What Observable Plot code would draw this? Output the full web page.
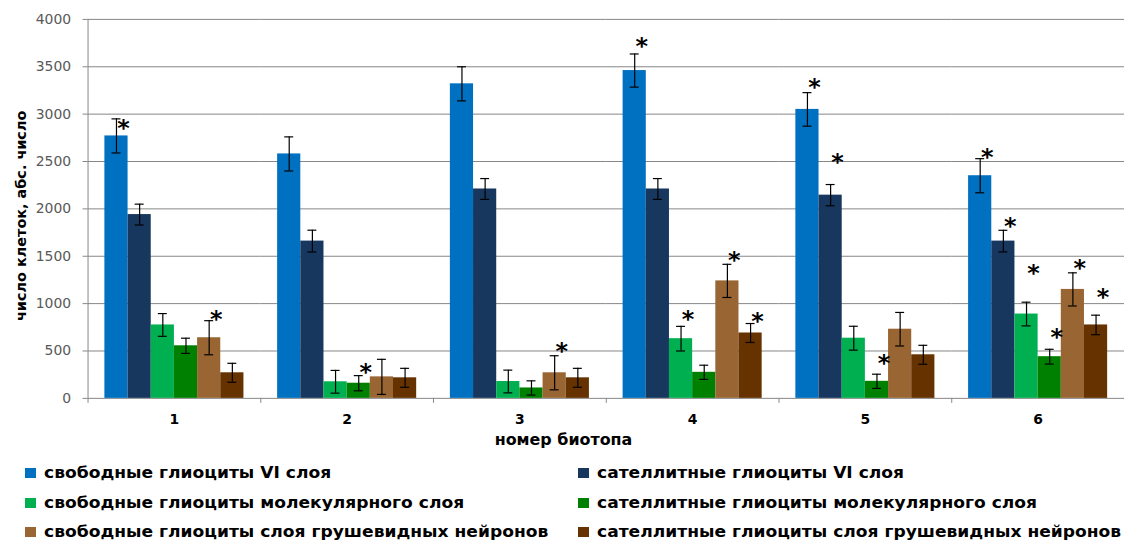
<!DOCTYPE html>
<html><head><meta charset="utf-8">
<script src="https://cdn.jsdelivr.net/npm/d3@7"></script>
<script src="https://cdn.jsdelivr.net/npm/@observablehq/plot@0.6"></script>
<style>
html,body{margin:0;padding:0;background:#fff;overflow:hidden;}
#wrap{position:relative;width:1124px;height:540px;overflow:hidden;}
#chart{position:absolute;left:0;top:0;}
.leg{position:absolute;display:flex;align-items:center;height:20px;font:bold 15px "DejaVu Sans";color:#000;white-space:nowrap;}
.leg .sw{width:11px;height:10px;margin-right:8px;flex:none;}
.leg .tx{display:inline-block;transform:scaleX(1.14);transform-origin:left center;}
</style></head><body>
<div id="wrap"><div id="chart"></div></div>
<script>
const groups = ["1", "2", "3", "4", "5", "6"];
const series = [
  "свободные глиоциты VI слоя",
  "сателлитные глиоциты VI слоя",
  "свободные глиоциты молекулярного слоя",
  "сателлитные глиоциты молекулярного слоя",
  "свободные глиоциты слоя грушевидных нейронов",
  "сателлитные глиоциты слоя грушевидных нейронов"
];
const colors = ["#0070C0", "#17375E", "#00B050", "#008000", "#996633", "#663300"];
// mean values per series, over groups 1..6
const means = [
  [2770, 2580, 3320, 3460, 3050, 2350],
  [1940, 1660, 2210, 2210, 2145, 1660],
  [775, 175, 178, 630, 635, 890],
  [555, 160, 110, 275, 180, 440],
  [640, 227, 270, 1240, 730, 1150],
  [270, 217, 217, 690, 460, 775]
];
// error (±) per series, over groups 1..6
const errors = [
  [180, 180, 180, 175, 177, 180],
  [110, 115, 110, 110, 112, 114],
  [120, 120, 120, 130, 126, 125],
  [80, 80, 75, 75, 75, 78],
  [180, 185, 180, 175, 177, 175],
  [100, 100, 100, 100, 100, 103]
];
// significance asterisks: [group, series index, value level of the asterisk]
const stars = [
  ["1", 0, 2909], ["1", 4, 893],
  ["2", 3, 336],
  ["3", 4, 557],
  ["4", 0, 3780], ["4", 2, 893], ["4", 4, 1523], ["4", 5, 872],
  ["5", 0, 3350], ["5", 1, 2552], ["5", 3, 431],
  ["6", 0, 2604], ["6", 1, 1880], ["6", 2, 1386], ["6", 3, 704], ["6", 4, 1439], ["6", 5, 1134]
];
const yTicks = [0, 500, 1000, 1500, 2000, 2500, 3000, 3500, 4000];
const yLabel = "число клеток, абс. число";
const xLabel = "номер биотопа";

const rows = [];
series.forEach((s, si) => groups.forEach((g, gi) => rows.push({g, s, v: means[si][gi], e: errors[si][gi]})));
const starRows = stars.map(([g, si, y]) => ({g, s: series[si], y}));

const W = 1130, H = 452, ML = 88, MR = 0, MT = 19, MB = 52;
const PO = 0.727;
const fw = (W - ML - MR) / groups.length;
const step = fw / (series.length + 2 * PO);
const edge = PO * step + step / 2;
const capInset = (step - 9) / 2;
const plotH = H - MT - MB;
const gridColor = "#868686";

const chart = Plot.plot({
  width: W, height: H,
  marginLeft: ML, marginRight: MR, marginTop: MT, marginBottom: MB,
  style: {fontFamily: "DejaVu Sans", background: "white", overflow: "visible"},
  fx: {domain: groups, padding: 0, round: false},
  x: {domain: series, paddingInner: 0, paddingOuter: PO, round: false, axis: null},
  y: {domain: [0, 4000]},
  color: {domain: series, range: colors},
  marks: [
    Plot.gridY(yTicks, {stroke: gridColor, strokeOpacity: 1}),
    // y axis line (first facet)
    Plot.ruleX([{g: groups[0]}], {fx: "g", x: () => series[0], dx: -edge, stroke: gridColor}),
    // category separators
    Plot.ruleX(groups.map(g => ({g})), {fx: "g", x: () => series[0], dx: -edge, stroke: gridColor, insetTop: plotH, insetBottom: -5}),
    Plot.ruleX([{g: groups[groups.length - 1]}], {fx: "g", x: () => series[series.length - 1], dx: edge, stroke: gridColor, insetTop: plotH, insetBottom: -5}),
    Plot.barY(rows, {fx: "g", x: "s", y: "v", fill: "s"}),
    Plot.ruleX(rows, {fx: "g", x: "s", y1: d => d.v - d.e, y2: d => d.v + d.e, stroke: "#000", strokeWidth: 1.2}),
    Plot.tickY(rows, {fx: "g", x: "s", y: d => d.v + d.e, insetLeft: capInset, insetRight: capInset, stroke: "#000", strokeWidth: 1.2}),
    Plot.tickY(rows, {fx: "g", x: "s", y: d => d.v - d.e, insetLeft: capInset, insetRight: capInset, stroke: "#000", strokeWidth: 1.2}),
    Plot.text(starRows, {fx: "g", x: "s", y: "y", text: () => "*", fontSize: 24, fontWeight: "bold", fill: "#000", dx: 7, dy: 6}),
    Plot.axisY({ticks: yTicks, tickSize: 5, tickPadding: 12, fontSize: 14, color: "#595959", stroke: gridColor, label: null, tickFormat: d => String(d)}),
    Plot.axisFx({anchor: "bottom", tickSize: 0, tickPadding: 16, fontSize: 14, fontWeight: "bold", color: "#000", label: null}),
    Plot.text([xLabel], {facet: "super", frameAnchor: "bottom", text: d => d, textAnchor: "middle", lineAnchor: "middle", dx: -43, dy: 42, fontSize: 16, fontWeight: "bold", fill: "#000"}),
    Plot.text([yLabel], {facet: "super", frameAnchor: "left", text: d => d, textAnchor: "middle", lineAnchor: "middle", rotate: -90, dx: -67.5, dy: 7, fontSize: 14.5, fontWeight: "bold", fill: "#000"})
  ]
});
document.getElementById("chart").append(chart);

// legend
const wrap = document.getElementById("wrap");
const legCols = [25, 578];
const legRows = [473, 503, 532];
series.forEach((s, i) => {
  const div = document.createElement("div");
  div.className = "leg";
  div.style.left = legCols[i % 2] + "px";
  div.style.top = (legRows[Math.floor(i / 2)] - 10) + "px";
  const sw = document.createElement("span");
  sw.className = "sw";
  sw.style.background = colors[i];
  const tx = document.createElement("span");
  tx.className = "tx";
  tx.textContent = s;
  div.append(sw, tx);
  wrap.append(div);
});
</script>
</body></html>
